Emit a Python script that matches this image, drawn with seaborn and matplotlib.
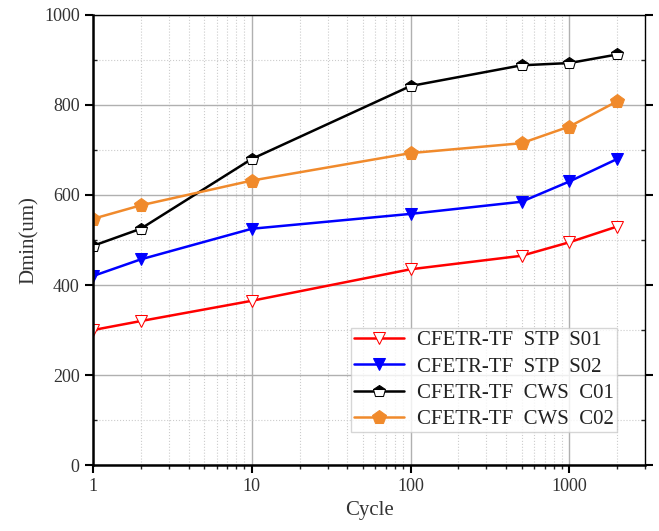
import matplotlib
matplotlib.use("Agg")
import matplotlib.pyplot as plt
import seaborn as sns
import pandas as pd
from matplotlib.ticker import LogLocator, MultipleLocator, FixedLocator, NullFormatter

cycles = [1, 2, 10, 100, 500, 1000, 2000]
stp_s01 = [300, 320, 365, 435, 465, 495, 530]
stp_s02 = [420, 457, 525, 558, 585, 630, 680]
cws_c01 = [487, 525, 680, 842, 888, 893, 912]
cws_c02 = [547, 577, 632, 693, 715, 752, 808]
labels = ["CFETR-TF  STP  S01", "CFETR-TF  STP  S02", "CFETR-TF  CWS  C01", "CFETR-TF  CWS  C02"]
x_ticks = [1, 10, 100, 1000]
x_tick_labels = ["1", "10", "100", "1000"]
y_ticks = [0, 200, 400, 600, 800, 1000]

sns.set_theme(style="white")
plt.rcParams['font.family'] = ['Liberation Serif', 'DejaVu Serif']

fig = plt.figure(figsize=(6.59, 5.31), dpi=100)
ax = fig.add_axes([0.141, 0.124, 0.838, 0.848])

styles = [
    dict(color="#ff0000", marker="v", markerfacecolor="white", markeredgecolor="#ff0000", markersize=8),
    dict(color="#0000ff", marker="v", markerfacecolor="#0000ff", markeredgecolor="#0000ff", markersize=9),
    dict(color="#000000", marker="p", fillstyle="top", markerfacecolor="#000000", markerfacecoloralt="white",
         markeredgecolor="#000000", markersize=9),
    dict(color="#f08a2c", marker="p", markerfacecolor="#f08a2c", markeredgecolor="#f08a2c", markersize=10),
]
series = [stp_s01, stp_s02, cws_c01, cws_c02]
for lab, vals, st in zip(labels, series, styles):
    df = pd.DataFrame({"Cycle": cycles, "Dmin": vals})
    sns.lineplot(data=df, x="Cycle", y="Dmin", ax=ax, label=lab, linewidth=1.8, **st)

ax.set_xscale("log")
ax.set_xlim(1, 3000)
ax.set_ylim(0, 1000)
ax.xaxis.set_major_locator(FixedLocator(x_ticks))
ax.set_xticklabels(x_tick_labels)
ax.xaxis.set_minor_locator(LogLocator(base=10, subs=range(2, 10)))
ax.xaxis.set_minor_formatter(NullFormatter())
ax.set_yticks(y_ticks)
ax.yaxis.set_minor_locator(MultipleLocator(100))

ax.grid(which="major", color="#b0b0b0", linestyle="-", linewidth=1.0)
ax.grid(which="minor", color="#cccccc", linestyle=":", linewidth=0.8)
ax.set_axisbelow(True)

for side in ["left", "bottom"]:
    ax.spines[side].set_linewidth(1.8)
    ax.spines[side].set_color("black")
for side in ["top", "right"]:
    ax.spines[side].set_linewidth(1.0)
    ax.spines[side].set_color("black")

ax.tick_params(which="major", direction="out", length=6, width=1.5, labelsize=13,
               colors="black", labelcolor="#333333", bottom=True, left=True)
ax.tick_params(which="minor", direction="out", length=3, width=1.0, bottom=True, left=True)
ax.tick_params(axis="y", which="both", right=True, direction="in")
ax.tick_params(axis="y", which="both", left=True)
ax.tick_params(axis="y", which="major", direction="out")

ax.set_xlabel("Cycle", fontsize=15, color="#333333")
ax.set_ylabel("Dmin(um)", fontsize=15, color="#333333")

leg = ax.legend(loc="lower right", fontsize=15, frameon=True, fancybox=False,
                handlelength=2.4, borderpad=0.15, labelspacing=0.32, handletextpad=0.6,
                borderaxespad=0.0, bbox_to_anchor=(0.949, 0.073))
leg.get_frame().set_edgecolor("#cccccc")
leg.get_frame().set_linewidth(1.0)
for t in leg.get_texts():
    t.set_color("#222222")

fig.savefig("out.png", dpi=100)
